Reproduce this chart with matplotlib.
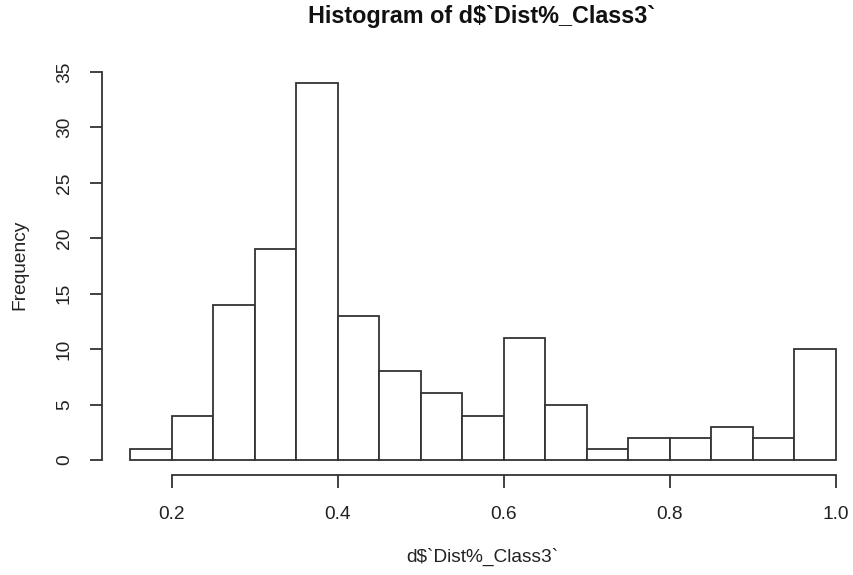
import matplotlib
matplotlib.use("Agg")
import matplotlib.pyplot as plt

plt.rcParams['font.family'] = ['Liberation Sans', 'DejaVu Sans']

# bin edges and counts for d$`Dist%_Class3`
breaks = [0.15, 0.20, 0.25, 0.30, 0.35, 0.40, 0.45, 0.50, 0.55, 0.60,
          0.65, 0.70, 0.75, 0.80, 0.85, 0.90, 0.95, 1.00]
counts = [1, 4, 14, 19, 34, 13, 8, 6, 4, 11, 5, 1, 2, 2, 3, 2, 10]
xticks = [0.2, 0.4, 0.6, 0.8, 1.0]
yticks = [0, 5, 10, 15, 20, 25, 30, 35]

W, H = 854, 575
fig = plt.figure(figsize=(W / 100, H / 100), dpi=100)

# plot region in pixels (R usr region with 4% padding)
left, right, top, bottom = 102, 864, 68, 475
ax = fig.add_axes([left / W, 1 - bottom / H, (right - left) / W, (bottom - top) / H])

pad_x = 0.04 * (breaks[-1] - breaks[0])
pad_y = 0.04 * max(counts)
ax.set_xlim(breaks[0] - pad_x, breaks[-1] + pad_x)
ax.set_ylim(-pad_y, max(counts) + pad_y)

col = '#333333'
widths = [b - a for a, b in zip(breaks[:-1], breaks[1:])]
ax.bar(breaks[:-1], counts, width=widths, align='edge',
       facecolor='white', edgecolor=col, linewidth=1.3)

for s in ['top', 'right']:
    ax.spines[s].set_visible(False)
ax.spines['left'].set_bounds(yticks[0], yticks[-1])
ax.spines['bottom'].set_bounds(xticks[0], xticks[-1])
for s in ['left', 'bottom']:
    ax.spines[s].set_color(col)
    ax.spines[s].set_linewidth(1.3)

ax.set_xticks(xticks)
ax.set_xticklabels([f"{v:.1f}" for v in xticks])
ax.set_yticks(yticks)
ax.set_yticklabels([str(v) for v in yticks], rotation=90, va='center')
ax.tick_params(axis='both', direction='out', length=9, width=1.3,
               color=col, labelsize=13.8, labelcolor='#222222')
ax.tick_params(axis='x', pad=13)
ax.tick_params(axis='y', pad=12)

fig.text(482 / W, 1 - 17 / H, "Histogram of d$`Dist%_Class3`", ha='center',
         va='center', fontsize=16.8, fontweight='bold', color='#111111')
fig.text(482 / W, 1 - 557 / H, "d$`Dist%_Class3`", ha='center', va='center',
         fontsize=13.8, color='#222222')
fig.text(20 / W, 1 - 265 / H, "Frequency", ha='center', va='center',
         rotation=90, fontsize=13.8, color='#222222')

fig.savefig("out.png", dpi=100)
